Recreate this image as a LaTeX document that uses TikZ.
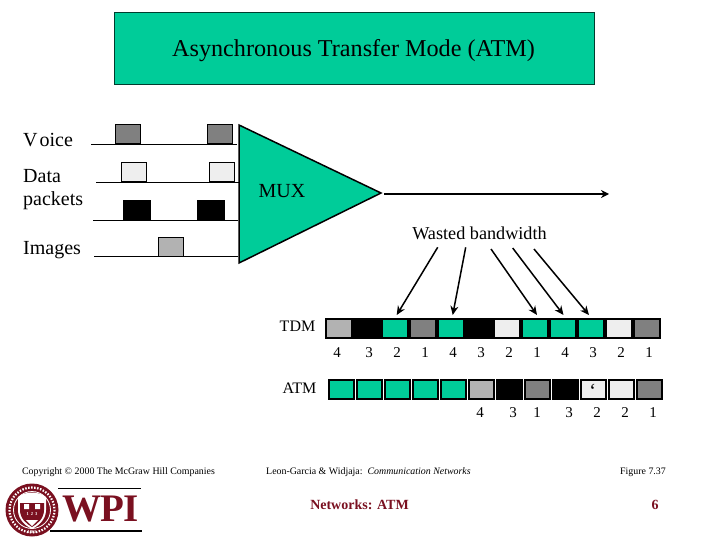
\documentclass[tikz,border=0pt]{standalone}
\usepackage{fontspec}
\setmainfont{Liberation Serif}
\usetikzlibrary{arrows.meta}
\definecolor{grn}{HTML}{00CC99}
\definecolor{wred}{HTML}{7A1020}
\definecolor{gA}{HTML}{808080}
\definecolor{gB}{HTML}{EEEEEE}
\definecolor{gC}{HTML}{B2B2B2}
\tikzset{
 lab/.style={inner sep=0pt,font=\fontsize{#1}{#1}\selectfont,text=black},
 lab/.default=20,
 pulse/.style={draw=black,line width=1pt,inner sep=0pt,minimum width=#1,minimum height=19pt},
 pulse/.default=25pt,
 tcell/.style={inner sep=0pt,minimum width=24pt,minimum height=17pt},
 acell/.style={draw=black,line width=1.6pt,inner sep=0pt,minimum width=25pt,minimum height=19pt},
 base/.style={line width=1.3pt,draw=black},
 arr/.style={line width=1.5pt,draw=black,-{Stealth[length=9pt,width=8pt]}},
 num/.style={inner sep=0pt,font=\fontsize{15}{15}\selectfont,text=black},
 rowlab/.style={inner sep=0pt,font=\fontsize{16}{16}\selectfont,text=black},
 foot/.style={inner sep=0pt,font=\fontsize{9.9}{9.9}\selectfont,text=black},
 redt/.style={inner sep=0pt,font=\bfseries\fontsize{14}{14}\selectfont,text=wred},
}
\begin{document}
\begin{tikzpicture}[x=1pt,y=-1pt]
\useasboundingbox (0,0) rectangle (720,540);
% title
\node[draw=black!70!grn,line width=0.7pt,fill=grn,inner sep=0pt,minimum width=480pt,minimum height=72pt] (titlebox) at (354,48) {};
\node[lab=24.2] (title) at (353.5,51) {Asynchronous Transfer Mode (ATM)};
% labels
\node[lab,anchor=west] (voice) at (23,140) {V\kern2pt oice};
\node[lab,anchor=west] (data) at (23,176) {Data};
\node[lab,anchor=west] (packets) at (23,201) {packets};
\node[lab,anchor=west] (images) at (23,250) {Images};
% baselines
\coordinate (v0) at (91,144.5); \coordinate (v1) at (237,144.5);
\coordinate (d0) at (96,182.7); \coordinate (d1) at (241,182.7);
\coordinate (p0) at (93,220.7); \coordinate (p1) at (238,220.7);
\coordinate (i0) at (94,256.7); \coordinate (i1) at (238,256.7);
\draw[base] (v0)--(v1);
\draw[base] (d0)--(d1);
\draw[base] (p0)--(p1);
\draw[base] (i0)--(i1);
% pulses
\node[pulse,fill=gA] (va) at (127.5,134.5) {};
\node[pulse,fill=gA] (vb) at (220,134.5) {};
\node[pulse,fill=gB] (da) at (133.5,172.5) {};
\node[pulse,fill=gB] (db) at (221.5,172.5) {};
\node[pulse=27pt,fill=black] (pa) at (137,210.5) {};
\node[pulse=27pt,fill=black] (pb) at (211,210.5) {};
\node[pulse,fill=gC] (ia) at (170.5,246.5) {};
% mux
\draw[line width=1.5pt,fill=grn,line join=miter] (239,125)--(381,193)--(239,263)--cycle;
\node[lab,anchor=center] (mux) at (282,191) {MUX};
\coordinate (o0) at (384,194); \coordinate (o1) at (609,194);
\draw[line width=1.5pt,-{Stealth[length=8pt,width=8pt]}] (o0)--(o1);
% wasted
\node[inner sep=0pt,font=\fontsize{18.2}{18.2}\selectfont] (wasted) at (479.5,233.5) {Wasted bandwidth};
% TDM bar
\node[fill=black,inner sep=0pt,minimum width=336pt,minimum height=21pt] (tdmbar) at (493,328.5) {};
\foreach \n/\x/\c in {a/339/gC,b/395/grn,c/423/gA,d/451/grn,e/507/gB,f/535/grn,g/563/grn,h/591/grn,i/619/gB,j/647/gA}
  \node[tcell,fill=\c] (t\n) at (\x,328.5) {};
\node[rowlab] (tdml) at (297.5,326.5) {TDM};
\node[rowlab] (atml) at (299.5,388.5) {ATM};
\foreach \x/\t in {337/4,369/3,397/2,425/1,453/4,481/3,509/2,537/1,565/4,593/3,621/2,649/1}
  \node[num] (n\x) at (\x,353) {\t};
% ATM row
\foreach \n/\x/\c in {a/341.5/grn,b/369.5/grn,c/397.5/grn,d/425.5/grn,e/453.5/grn,f/481.5/gC,g/509.5/black,h/537.5/gA,i/565.5/black,j/593.5/gB,k/621.5/gB,l/649.5/gA}
  \node[acell,fill=\c] (m\n) at (\x,389.5) {};
\node[inner sep=0pt,font=\fontsize{20}{20}\selectfont] (tick) at (592.7,391) {`};
\foreach \x/\t in {480/4,513/3,537/1,569/3,597/2,625/2,653/1}
  \node[num] (q\x) at (\x,413) {\t};
% arrows
\coordinate (a1s) at (437.7,247.3); \coordinate (a1e) at (396.7,315);
\coordinate (a2s) at (465.7,247.3); \coordinate (a2e) at (452.7,315);
\coordinate (a3s) at (491,249); \coordinate (a3e) at (537,315);
\coordinate (a4s) at (512.7,248); \coordinate (a4e) at (563.5,315);
\coordinate (a5s) at (534,249); \coordinate (a5e) at (589,315);
\foreach \i in {1,...,5} \draw[arr] (a\i s)--(a\i e);
% footer
\node[foot] (copy) at (118.5,472) {Copyright © 2000 The McGraw Hill Companies};
\node[foot,anchor=west] (leon) at (266,472) {Leon-Garcia \& Widjaja:\hspace{5pt}\textit{Communication Networks}};
\node[foot] (fig) at (643,472) {Figure 7.37};
\node[redt] (net) at (359.5,504.5) {Networks: ATM};
\node[redt] (six) at (655,504.5) {6};
% logo
\coordinate (sc) at (32,510);
\fill[wred] (sc) circle (26.5);
\draw[white,line width=0.8pt] (sc) circle (18.5);
\draw[white,line width=2.2pt,dash pattern=on 1.5pt off 1.5pt] (sc) circle (22.5);
\fill[white] (18,497) .. controls (26,491) and (38,491) .. (46,497) -- (46,510) .. controls (46,520) and (38,526) .. (32,529) .. controls (26,526) and (18,520) .. (18,510) -- cycle;
\fill[wred] (20,503) -- (44,503) -- (44,510) .. controls (44,519) and (37,524) .. (32,527) .. controls (27,524) and (20,519) .. (20,510) -- cycle;
\fill[white] (24,504) rectangle (29,509) (35,504) rectangle (40,509);
\fill[white] (26,520) -- (38,520) -- (32,526) -- cycle;
\node[inner sep=0pt,text=white,font=\bfseries\fontsize{4.5}{4.5}\selectfont] (yr) at (32,532) {1865};
\node[inner sep=0pt,text=white,font=\bfseries\fontsize{4.5}{4.5}\selectfont] (cr) at (32,514) {1\hspace{2pt}2\hspace{2pt}3};
\coordinate (l1) at (58,488); \coordinate (l2) at (141,488);
\coordinate (l3) at (50,531); \coordinate (l4) at (142,531);
\draw[black,line width=0.8pt] (l1)--(l2);
\draw[black,line width=1.8pt] (l3)--(l4);
\node[inner sep=0pt,text=wred,font=\bfseries\fontsize{39}{39}\selectfont] (wpi) at (100.5,509.5) {\addfontfeature{LetterSpace=-3}WPI};
\end{tikzpicture}
\end{document}
